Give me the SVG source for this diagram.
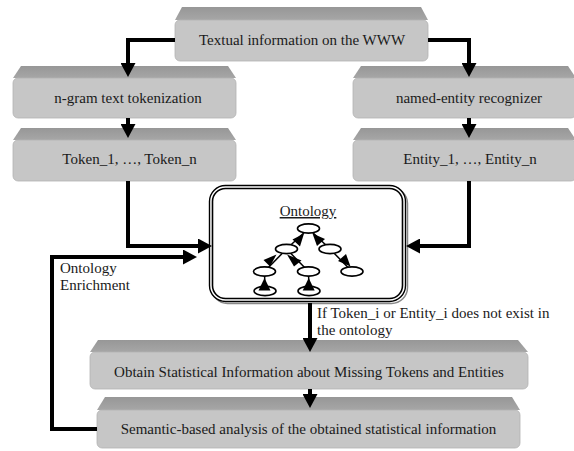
<svg xmlns="http://www.w3.org/2000/svg" width="574" height="451" viewBox="0 0 574 451">
<style>
  .face { fill: #c6c6c6; stroke: #b2b2b2; stroke-width: 0.8; }
  .band { fill: url(#bandGrad); }
  .lbl { font-family: "Liberation Serif", "Times New Roman", serif; font-size: 15px; fill: #1a1a1a; }
  .mid { text-anchor: middle; }
  .conn { fill: none; stroke: #000; stroke-width: 4; stroke-linejoin: miter; }
  .tedge { stroke: #000; stroke-width: 1.5; }
  .tnode { fill: #fff; stroke: #000; stroke-width: 1.6; }
  .thead { fill: #000; }
</style>
<defs>
  <linearGradient id="bandGrad" x1="0" y1="0" x2="0" y2="1">
    <stop offset="0" stop-color="#979797"/>
    <stop offset="1" stop-color="#a6a6a6"/>
  </linearGradient>
  <marker id="ah" markerUnits="userSpaceOnUse" markerWidth="15" markerHeight="15" refX="0" refY="7.5" orient="auto">
    <path d="M0,0 L14,7.5 L0,15 z" fill="#000"/>
  </marker>
</defs>
<rect width="574" height="451" fill="#fff"/>

<g id="node-www">
  <polygon class="band" points="182,7 421,7 428,20 175,20"/>
  <rect class="face" x="175" y="20" width="253" height="41" rx="5"/>
  <text class="lbl mid" x="302" y="45">Textual information on the WWW</text>
</g>
<g id="node-ngram">
  <polygon class="band" points="21,66 228,66 236,78 13,78"/>
  <rect class="face" x="13" y="78" width="223" height="40" rx="5"/>
  <text class="lbl mid" x="128" y="103">n-gram text tokenization</text>
</g>
<g id="node-tokens">
  <polygon class="band" points="21,128 228,128 236,140 13,140"/>
  <rect class="face" x="13" y="140" width="223" height="41" rx="5"/>
  <text class="lbl mid" x="129.5" y="164">Token_1, …, Token_n</text>
</g>
<g id="node-ner">
  <polygon class="band" points="361,66 568,66 576,78 353,78"/>
  <rect class="face" x="353" y="78" width="223" height="40" rx="5"/>
  <text class="lbl mid" x="469" y="103">named-entity recognizer</text>
</g>
<g id="node-entities">
  <polygon class="band" points="361,128 568,128 576,140 353,140"/>
  <rect class="face" x="353" y="140" width="223" height="41" rx="5"/>
  <text class="lbl mid" x="470" y="164">Entity_1, …, Entity_n</text>
</g>

<g id="node-ontology">
  <rect x="211.5" y="187.5" width="196" height="116" rx="16" fill="none" stroke="#888" stroke-width="1.5"/>
  <rect x="209.5" y="185.5" width="196" height="116" rx="16" fill="#fff" stroke="#000" stroke-width="1.4"/>
  <rect x="212.5" y="188.5" width="190" height="110" rx="13" fill="#fff" stroke="#000" stroke-width="1.6"/>
  <text class="lbl mid" x="308" y="216" text-decoration="underline">Ontology</text>
  <g id="tree-edges">
    <line class="tedge" x1="286.5" y1="249" x2="308.5" y2="228.5"/>
    <line class="tedge" x1="330" y1="249" x2="308.5" y2="228.5"/>
    <line class="tedge" x1="264.5" y1="271.5" x2="286.5" y2="249"/>
    <line class="tedge" x1="308.5" y1="271.5" x2="286.5" y2="249"/>
    <line class="tedge" x1="352" y1="271.5" x2="330" y2="249"/>
    <line class="tedge" x1="265" y1="291" x2="264.5" y2="271.5"/>
    <line class="tedge" x1="309" y1="291" x2="308.5" y2="271.5"/>
  </g>
  <g id="tree-nodes">
    <ellipse class="tnode" cx="308.5" cy="228.5" rx="11" ry="4.6"/>
    <ellipse class="tnode" cx="286.5" cy="249" rx="11" ry="4.6"/>
    <ellipse class="tnode" cx="330" cy="249" rx="11" ry="4.6"/>
    <ellipse class="tnode" cx="264.5" cy="271.5" rx="11" ry="4.6"/>
    <ellipse class="tnode" cx="308.5" cy="271.5" rx="11" ry="4.6"/>
    <ellipse class="tnode" cx="352" cy="271.5" rx="11" ry="4.6"/>
    <ellipse class="tnode" cx="265" cy="291" rx="11" ry="4.6"/>
    <ellipse class="tnode" cx="309" cy="291" rx="11" ry="4.6"/>
  </g>
  <g id="tree-heads">
    <polygon class="thead" points="304,233.5 292.5,239.5 300,246.5"/>
    <polygon class="thead" points="312.5,233.5 325,239 317,246"/>
    <polygon class="thead" points="276.5,254.5 263.5,260 270,266.5"/>
    <polygon class="thead" points="287,254.5 301.5,260.5 294,266.5"/>
    <polygon class="thead" points="350.5,266.5 338,261 346,254"/>
    <polygon class="thead" points="264.5,278 258.5,290.5 270.5,290.5"/>
    <polygon class="thead" points="308.7,278 302.7,290.5 314.7,290.5"/>
  </g>
</g>

<g id="node-obtain">
  <polygon class="band" points="98,340 518,340 528,352 90,352"/>
  <rect class="face" x="90" y="352" width="438" height="37" rx="5"/>
  <text class="lbl mid" x="309" y="377">Obtain Statistical Information about Missing Tokens and Entities</text>
</g>
<g id="node-semantic">
  <polygon class="band" points="105,397 512,397 520,410 97,410"/>
  <rect class="face" x="97" y="410" width="423" height="38" rx="5"/>
  <text class="lbl mid" x="308.5" y="434">Semantic-based analysis of the obtained statistical information</text>
</g>

<g id="connectors">
  <path class="conn" d="M175,40 H128 V63" marker-end="url(#ah)"/>
  <path class="conn" d="M428,40 H469 V63" marker-end="url(#ah)"/>
  <path class="conn" d="M128,118 V124" marker-end="url(#ah)"/>
  <path class="conn" d="M469,118 V124" marker-end="url(#ah)"/>
  <path class="conn" d="M128,181 V246 H198" marker-end="url(#ah)"/>
  <path class="conn" d="M469,181 V246 H420" marker-end="url(#ah)"/>
  <path class="conn" d="M310,303 V338" marker-end="url(#ah)"/>
  <path class="conn" d="M310,389 V394" marker-end="url(#ah)"/>
  <path class="conn" d="M97,429 H52 V257 H183" marker-end="url(#ah)"/>
  <text class="lbl" x="60" y="273">Ontology</text>
  <text class="lbl" x="60" y="290">Enrichment</text>
  <text class="lbl" x="317" y="318">If Token_i or Entity_i does not exist in</text>
  <text class="lbl" x="317" y="335">the ontology</text>
</g>
</svg>
